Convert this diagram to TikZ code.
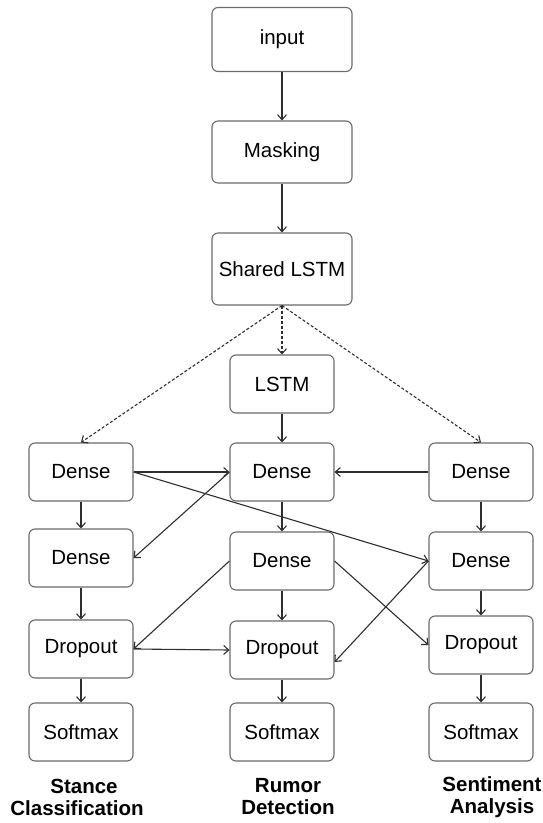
\documentclass[tikz,border=0pt]{standalone}
\usepackage{fontspec}
\setmainfont{Liberation Sans}
\usetikzlibrary{arrows.meta,calc}
\definecolor{boxline}{HTML}{6A6A6A}
\definecolor{arrline}{HTML}{2E2E2E}
\begin{document}
\begin{tikzpicture}[x=1pt,y=-1pt,
  blk/.style={draw=boxline,line width=1.1pt,rounded corners=6pt,fill=white,
    minimum width=104pt,minimum height=58pt,inner sep=0pt,
    font=\fontsize{20.5}{24}\selectfont},
  topblk/.style={blk,minimum width=140pt},
  conn/.style={draw=arrline,line width=1.1pt,-{Straight Barb[length=5pt,width=9pt]}},
  dconn/.style={conn,dash pattern=on 3pt off 2pt},
  lbl/.style={align=center,font=\fontsize{20.5}{22}\selectfont\bfseries}]
\useasboundingbox (0,0) rectangle (542,823);
\node[topblk,minimum height=64pt] (inp) at (282,39.5) {input};
\node[topblk,minimum height=62pt] (mask) at (282,152) {Masking};
\node[topblk,minimum height=72pt] (shared) at (282,269) {Shared LSTM};
\node[blk] (lstm) at (282,384) {LSTM};
\node[blk] (d1l) at (81,472) {Dense};
\node[blk] (d1m) at (282,472) {Dense};
\node[blk] (d1r) at (481,472) {Dense};
\node[blk] (d2l) at (81,558) {Dense};
\node[blk] (d2m) at (282,561) {Dense};
\node[blk] (d2r) at (481,561) {Dense};
\node[blk] (drl) at (81,649) {Dropout};
\node[blk] (drm) at (282,650) {Dropout};
\node[blk] (drr) at (481,645) {Dropout};
\node[blk] (sl) at (81,732) {Softmax};
\node[blk] (sm) at (282,732) {Softmax};
\node[blk] (sr) at (481,732) {Softmax};
\node[lbl] (ll) at (77,797) {\hspace*{14pt}Stance\\Classification};
\node[lbl] (lm) at (288,797) {Rumor\\Detection};
\node[lbl] (lr) at (492,797) {Sentiment\\Analysis};
\draw[conn] (inp) -- (mask);
\draw[conn] (mask) -- (shared);
\draw[dconn] (shared.south) -- (lstm.north);
\draw[dconn] (shared.south) -- (d1l.north);
\draw[dconn] (shared.south) -- (d1r.north);
\draw[conn] (lstm) -- (d1m);
\foreach \c in {l,m,r}{
  \draw[conn] (d1\c) -- (d2\c);
  \draw[conn] (d2\c) -- (dr\c);
  \draw[conn] (dr\c) -- (s\c);
}
\draw[conn] (d1l.east) -- (d1m.west);
\draw[conn] (d1r.west) -- (d1m.east);
\draw[conn] (d1l.east) -- (d2r.west);
\draw[conn] (d1m.west) -- (d2l.east);
\draw[conn] (d2m.west) -- (drl.east);
\draw[conn] (drl.east) -- (drm.west);
\draw[conn] (d2m.east) -- (drr.west);
\draw[conn] (d2r.west) -- ($(drm.east)+(0,12)$);
\end{tikzpicture}
\end{document}
